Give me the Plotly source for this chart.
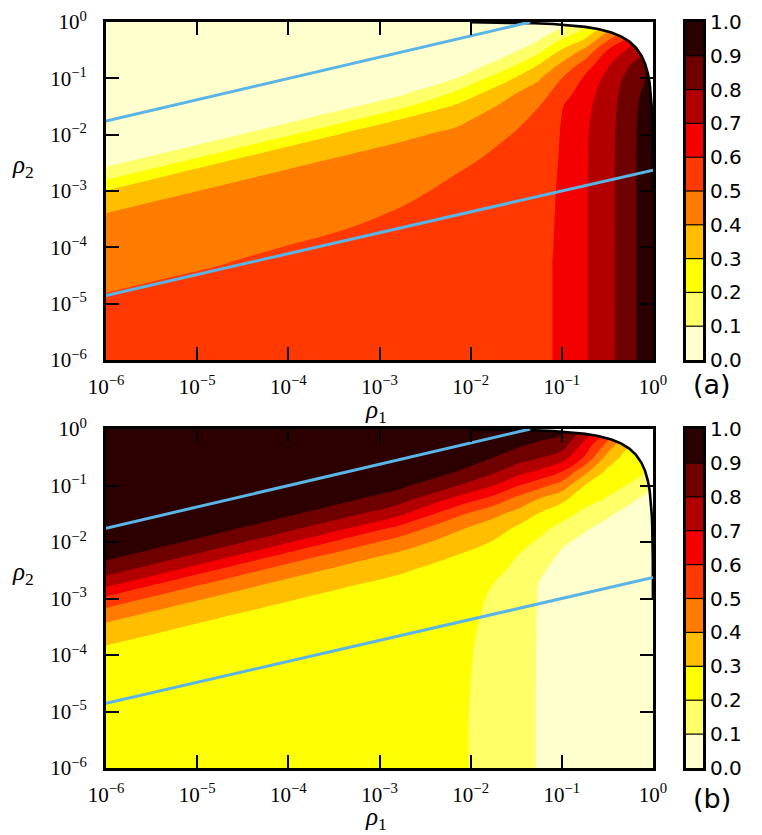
import numpy as np
import plotly.graph_objects as go

# ---------------- data ----------------
LEVELS = [0.1, 0.2, 0.3, 0.4, 0.5, 0.6, 0.7, 0.8, 0.9]
BAND_COLORS = ["#ffffcd", "#ffff68", "#ffff04", "#ffbf00", "#ff7c00",
               "#ff3900", "#f50000", "#b20000", "#6f0000", "#2c0000"]
CBAR_TICKS = [0.0, 0.1, 0.2, 0.3, 0.4, 0.5, 0.6, 0.7, 0.8, 0.9, 1.0]
CBAR_LABELS = ["0.0", "0.1", "0.2", "0.3", "0.4", "0.5", "0.6", "0.7", "0.8", "0.9", "1.0"]
BAND_CENTERS = [0.05, 0.15, 0.25, 0.35, 0.45, 0.55, 0.65, 0.75, 0.85, 0.95]

DECADES = [-6, -5, -4, -3, -2, -1, 0]
DECADE_LABELS = ["10<sup>\u22126</sup>", "10<sup>\u22125</sup>", "10<sup>\u22124</sup>",
                 "10<sup>\u22123</sup>", "10<sup>\u22122</sup>", "10<sup>\u22121</sup>",
                 "10<sup>0</sup>"]

# sampling grid (log10 rho1 columns, log10 rho2 rows from top 0 down to -6)
LOG_RHO1_GRID = [-6.0, -5.36, -4.72, -4.08, -3.44, -2.8, -2.16, -1.75, -1.5,
                 -1.25, -1.0, -0.75, -0.5, -0.3, -0.1, 0.0]
LOG_RHO2_GRID = [0.0, -0.25, -0.5, -0.75, -1.0, -1.25, -1.5, -1.75, -2.0, -2.25,
                 -2.5, -2.75, -3.0, -3.25, -3.5, -3.75, -4.0, -4.25, -4.5, -4.75,
                 -5.0, -5.25, -5.5, -5.75, -6.0]

# panel (a): values per rho1 column, top to bottom
ZA_COLUMNS = [
    [0.01, 0.01, 0.01, 0.012, 0.015, 0.017, 0.02, 0.025, 0.035, 0.05, 0.07, 0.173, 0.305, 0.38, 0.415, 0.43, 0.445, 0.46, 0.475, 0.497, 0.51, 0.52, 0.53, 0.535, 0.54],
    [0.01, 0.01, 0.012, 0.015, 0.017, 0.02, 0.025, 0.035, 0.05, 0.07, 0.173, 0.305, 0.38, 0.415, 0.43, 0.445, 0.46, 0.475, 0.497, 0.51, 0.52, 0.53, 0.535, 0.54, 0.54],
    [0.01, 0.012, 0.015, 0.017, 0.02, 0.025, 0.035, 0.05, 0.07, 0.173, 0.305, 0.38, 0.415, 0.43, 0.445, 0.46, 0.475, 0.497, 0.51, 0.52, 0.53, 0.535, 0.54, 0.545, 0.545],
    [0.012, 0.015, 0.017, 0.02, 0.025, 0.035, 0.05, 0.07, 0.173, 0.305, 0.38, 0.415, 0.43, 0.445, 0.46, 0.48, 0.5, 0.515, 0.525, 0.53, 0.535, 0.54, 0.545, 0.545, 0.545],
    [0.015, 0.017, 0.02, 0.025, 0.035, 0.05, 0.07, 0.173, 0.305, 0.38, 0.415, 0.43, 0.445, 0.46, 0.48, 0.503, 0.515, 0.525, 0.53, 0.535, 0.54, 0.545, 0.545, 0.545, 0.545],
    [0.017, 0.02, 0.025, 0.035, 0.05, 0.07, 0.173, 0.305, 0.38, 0.415, 0.43, 0.45, 0.47, 0.495, 0.515, 0.525, 0.535, 0.54, 0.545, 0.545, 0.55, 0.55, 0.55, 0.55, 0.55],
    [0.02, 0.025, 0.035, 0.055, 0.1, 0.21, 0.318, 0.382, 0.42, 0.448, 0.476, 0.505, 0.525, 0.535, 0.54, 0.545, 0.55, 0.55, 0.555, 0.555, 0.555, 0.56, 0.56, 0.56, 0.56],
    [0.03, 0.04, 0.055, 0.109, 0.229, 0.333, 0.397, 0.432, 0.466, 0.5, 0.525, 0.54, 0.55, 0.555, 0.56, 0.56, 0.565, 0.565, 0.57, 0.57, 0.57, 0.57, 0.57, 0.57, 0.57],
    [0.04, 0.06, 0.09, 0.195, 0.31, 0.397, 0.437, 0.477, 0.51, 0.53, 0.545, 0.555, 0.56, 0.565, 0.57, 0.57, 0.575, 0.575, 0.575, 0.58, 0.58, 0.58, 0.58, 0.58, 0.58],
    [0.04, 0.07, 0.17, 0.3, 0.39, 0.45, 0.5, 0.53, 0.55, 0.56, 0.57, 0.575, 0.58, 0.583, 0.585, 0.587, 0.588, 0.59, 0.59, 0.59, 0.59, 0.59, 0.59, 0.59, 0.59],
    [0.05, 0.17, 0.31, 0.415, 0.5, 0.55, 0.595, 0.603, 0.605, 0.606, 0.606, 0.607, 0.607, 0.607, 0.607, 0.607, 0.607, 0.607, 0.607, 0.607, 0.607, 0.607, 0.607, 0.607, 0.607],
    [0.15, 0.27, 0.42, 0.535, 0.615, 0.65, 0.67, 0.68, 0.685, 0.687, 0.688, 0.689, 0.69, 0.69, 0.69, 0.69, 0.69, 0.69, 0.69, 0.69, 0.69, 0.69, 0.69, 0.69, 0.69],
    [0.3, 0.45, 0.6, 0.685, 0.73, 0.75, 0.76, 0.765, 0.768, 0.77, 0.77, 0.77, 0.77, 0.77, 0.77, 0.77, 0.77, 0.77, 0.77, 0.77, 0.77, 0.77, 0.77, 0.77, 0.77],
    [0.4, 0.57, 0.7, 0.78, 0.815, 0.83, 0.837, 0.84, 0.842, 0.843, 0.844, 0.845, 0.845, 0.845, 0.845, 0.845, 0.845, 0.845, 0.845, 0.845, 0.845, 0.845, 0.845, 0.845, 0.845],
    [0.6, 0.7, 0.78, 0.85, 0.89, 0.915, 0.928, 0.935, 0.938, 0.94, 0.94, 0.94, 0.94, 0.94, 0.94, 0.94, 0.94, 0.94, 0.94, 0.94, 0.94, 0.94, 0.94, 0.94, 0.94],
    [0.9, 0.93, 0.95, 0.97, 0.98, 0.98, 0.98, 0.98, 0.98, 0.98, 0.98, 0.98, 0.98, 0.98, 0.98, 0.98, 0.98, 0.98, 0.98, 0.98, 0.98, 0.98, 0.98, 0.98, 0.98],
]

# panel (b): values per rho1 column, top to bottom
ZB_COLUMNS = [
    [0.99, 0.99, 0.99, 0.988, 0.985, 0.98, 0.975, 0.965, 0.95, 0.925, 0.844, 0.728, 0.579, 0.46, 0.376, 0.31, 0.28, 0.272, 0.266, 0.262, 0.258, 0.255, 0.253, 0.251, 0.25],
    [0.99, 0.99, 0.988, 0.985, 0.98, 0.975, 0.965, 0.95, 0.925, 0.844, 0.728, 0.579, 0.46, 0.376, 0.31, 0.28, 0.272, 0.266, 0.262, 0.258, 0.255, 0.253, 0.251, 0.25, 0.25],
    [0.99, 0.988, 0.985, 0.98, 0.975, 0.965, 0.95, 0.925, 0.844, 0.728, 0.579, 0.46, 0.376, 0.31, 0.28, 0.272, 0.266, 0.262, 0.258, 0.255, 0.253, 0.251, 0.25, 0.25, 0.25],
    [0.988, 0.985, 0.98, 0.975, 0.965, 0.95, 0.925, 0.844, 0.728, 0.579, 0.46, 0.376, 0.31, 0.28, 0.272, 0.266, 0.262, 0.258, 0.255, 0.253, 0.251, 0.25, 0.25, 0.25, 0.25],
    [0.985, 0.98, 0.975, 0.965, 0.95, 0.925, 0.844, 0.728, 0.579, 0.46, 0.376, 0.31, 0.28, 0.272, 0.266, 0.262, 0.258, 0.255, 0.253, 0.251, 0.25, 0.25, 0.25, 0.25, 0.25],
    [0.98, 0.975, 0.965, 0.95, 0.925, 0.844, 0.728, 0.579, 0.46, 0.376, 0.31, 0.28, 0.272, 0.266, 0.262, 0.258, 0.255, 0.253, 0.251, 0.25, 0.245, 0.245, 0.245, 0.245, 0.245],
    [0.985, 0.975, 0.95, 0.9, 0.807, 0.669, 0.526, 0.42, 0.352, 0.297, 0.27, 0.255, 0.245, 0.237, 0.23, 0.225, 0.222, 0.22, 0.218, 0.217, 0.216, 0.215, 0.215, 0.215, 0.215],
    [0.98, 0.96, 0.9, 0.817, 0.7, 0.558, 0.426, 0.35, 0.294, 0.262, 0.23, 0.199, 0.188, 0.182, 0.178, 0.175, 0.173, 0.172, 0.171, 0.17, 0.17, 0.17, 0.17, 0.17, 0.17],
    [0.97, 0.93, 0.85, 0.75, 0.61, 0.47, 0.37, 0.29, 0.245, 0.202, 0.175, 0.158, 0.148, 0.142, 0.138, 0.135, 0.133, 0.132, 0.131, 0.13, 0.13, 0.13, 0.13, 0.13, 0.13],
    [0.96, 0.89, 0.81, 0.685, 0.535, 0.39, 0.295, 0.235, 0.185, 0.145, 0.113, 0.097, 0.096, 0.095, 0.095, 0.095, 0.095, 0.095, 0.095, 0.095, 0.095, 0.095, 0.095, 0.095, 0.095],
    [0.93, 0.86, 0.75, 0.605, 0.455, 0.32, 0.24, 0.17, 0.115, 0.085, 0.072, 0.066, 0.063, 0.061, 0.06, 0.06, 0.06, 0.06, 0.06, 0.06, 0.06, 0.06, 0.06, 0.06, 0.06],
    [0.78, 0.68, 0.59, 0.43, 0.3, 0.237, 0.175, 0.112, 0.075, 0.058, 0.05, 0.045, 0.042, 0.041, 0.04, 0.04, 0.04, 0.04, 0.04, 0.04, 0.04, 0.04, 0.04, 0.04, 0.04],
    [0.65, 0.48, 0.365, 0.28, 0.236, 0.19, 0.115, 0.07, 0.05, 0.04, 0.035, 0.032, 0.031, 0.03, 0.03, 0.03, 0.03, 0.03, 0.03, 0.03, 0.03, 0.03, 0.03, 0.03, 0.03],
    [0.45, 0.33, 0.27, 0.235, 0.2, 0.13, 0.075, 0.045, 0.032, 0.026, 0.023, 0.021, 0.02, 0.02, 0.02, 0.02, 0.02, 0.02, 0.02, 0.02, 0.02, 0.02, 0.02, 0.02, 0.02],
    [0.4, 0.3, 0.25, 0.21, 0.14, 0.08, 0.045, 0.03, 0.022, 0.018, 0.016, 0.015, 0.015, 0.015, 0.015, 0.015, 0.015, 0.015, 0.015, 0.015, 0.015, 0.015, 0.015, 0.015, 0.015],
    [0.35, 0.25, 0.2, 0.16, 0.1, 0.05, 0.025, 0.015, 0.01, 0.01, 0.01, 0.01, 0.01, 0.01, 0.01, 0.01, 0.01, 0.01, 0.01, 0.01, 0.01, 0.01, 0.01, 0.01, 0.01],
]

# physical boundary rho1 + rho2 = 1
BOUNDARY_RHO1 = [0.01, 0.03, 0.05, 0.08, 0.12, 0.18, 0.25, 0.35, 0.45, 0.55, 0.65,
                 0.75, 0.82, 0.88, 0.92, 0.95, 0.97, 0.98, 0.99, 0.995, 0.999]
BOUNDARY_RHO2 = [0.99, 0.97, 0.95, 0.92, 0.88, 0.82, 0.75, 0.65, 0.55, 0.45, 0.35,
                 0.25, 0.18, 0.12, 0.08, 0.05, 0.03, 0.02, 0.01, 0.005, 0.001]

# straight blue reference lines
BLUE_UPPER_RHO1 = [1e-6, 0.045]
BLUE_UPPER_RHO2 = [0.0175, 1.0]
BLUE_LOWER_RHO1 = [1e-6, 1.0]
BLUE_LOWER_RHO2 = [1.4e-5, 2.35e-3]

# ---------------- figure ----------------
# the page places the figure 8 px from its top-left corner (body margin)
OFF = 8
W, H = 762, 835
def px(x):
    return (x - OFF) / W
def py(y):
    return 1 - (y - OFF) / H

X_DOM = [px(106), px(653)]
Y_DOM_A = [py(360), py(22)]
Y_DOM_B = [py(768), py(429)]
CB_DOM = [px(686), px(703)]

contour_scale = [[k / 9, c] for k, c in enumerate(BAND_COLORS)]
bar_scale = [[k / 9, c] for k, c in enumerate(BAND_COLORS)]

fig = go.Figure()

panels = [
    (ZA_COLUMNS, "x", "y", "x3", "y3"),
    (ZB_COLUMNS, "x2", "y2", "x4", "y4"),
]

log_r1_b = np.log10(BOUNDARY_RHO1)
log_r2_b = np.log10(BOUNDARY_RHO2)
mask_x = list(log_r1_b) + [0.3, 0.3, log_r1_b[0]]
mask_y = list(log_r2_b) + [log_r2_b[-1], 0.3, 0.3]

for cols, xa, ya, xc, yc in panels:
    z = np.array(cols).T[::-1]
    y = LOG_RHO2_GRID[::-1]
    fig.add_trace(go.Contour(
        x=LOG_RHO1_GRID, y=y, z=z, xaxis=xa, yaxis=ya,
        autocontour=False,
        contours=dict(start=LEVELS[0], end=LEVELS[-1], size=0.1,
                      coloring="fill", showlines=False),
        colorscale=contour_scale, showscale=False,
        line=dict(width=0, smoothing=1.3),
        hoverinfo="skip"))
    # white area outside rho1 + rho2 <= 1
    fig.add_trace(go.Scatter(x=mask_x, y=mask_y, xaxis=xa, yaxis=ya, mode="lines",
                             fill="toself", fillcolor="white",
                             line=dict(width=0, color="white"), hoverinfo="skip",
                             showlegend=False))
    fig.add_trace(go.Scatter(x=log_r1_b, y=log_r2_b, xaxis=xa, yaxis=ya, mode="lines",
                             line=dict(color="black", width=2.6), hoverinfo="skip",
                             showlegend=False))
    for r1, r2 in ((BLUE_UPPER_RHO1, BLUE_UPPER_RHO2), (BLUE_LOWER_RHO1, BLUE_LOWER_RHO2)):
        fig.add_trace(go.Scatter(x=np.log10(r1), y=np.log10(r2), xaxis=xa, yaxis=ya,
                                 mode="lines", line=dict(color="#5ab4e6", width=3),
                                 hoverinfo="skip", showlegend=False))
    # discrete colorbar
    fig.add_trace(go.Heatmap(x=[0.5], y=BAND_CENTERS,
                             z=[[k] for k in range(len(BAND_COLORS))],
                             xaxis=xc, yaxis=yc, colorscale=bar_scale, zmin=0, zmax=9,
                             showscale=False, hoverinfo="skip"))
    for lv in LEVELS:
        fig.add_shape(type="line", xref=xc + " domain", yref=yc, x0=0, x1=1,
                      y0=lv, y1=lv, line=dict(color="black", width=1.2))

tick_font = dict(family="Liberation Serif", size=21, color="black")
main_axis = dict(range=[-6, 0], tickvals=DECADES, ticktext=DECADE_LABELS,
                 ticks="inside", ticklen=13, tickwidth=2, tickcolor="black",
                 showline=True, linewidth=3, linecolor="black", mirror="ticks",
                 showgrid=False, zeroline=False, tickfont=tick_font, automargin=False,
                 ticklabeloverflow="allow")

fig.update_layout(
    template="none",
    width=W, height=H, margin=dict(l=0, r=0, t=0, b=0, autoexpand=False),
    paper_bgcolor="white", plot_bgcolor="white", showlegend=False,
    xaxis=dict(domain=X_DOM, anchor="y", ticklabelstandoff=6, **main_axis),
    yaxis=dict(domain=Y_DOM_A, anchor="x", ticklabelstandoff=12, **main_axis),
    xaxis2=dict(domain=X_DOM, anchor="y2", ticklabelstandoff=6, **main_axis),
    yaxis2=dict(domain=Y_DOM_B, anchor="x2", ticklabelstandoff=12, **main_axis),
)

cbar_y = dict(range=[0, 1], side="right", tickvals=CBAR_TICKS, ticktext=CBAR_LABELS,
              ticks="", showline=True, linewidth=3, linecolor="black", mirror=True,
              showgrid=False, zeroline=False, ticklabelstandoff=0, automargin=False,
              ticklabeloverflow="allow",
              tickfont=dict(family="DejaVu Sans", size=20, color="black"))
cbar_x = dict(range=[0, 1], showticklabels=False, ticks="", showline=True, linewidth=3,
              linecolor="black", mirror=True, showgrid=False, zeroline=False,
              automargin=False)
fig.update_layout(
    xaxis3=dict(domain=CB_DOM, anchor="y3", **cbar_x),
    yaxis3=dict(domain=Y_DOM_A, anchor="x3", **cbar_y),
    xaxis4=dict(domain=CB_DOM, anchor="y4", **cbar_x),
    yaxis4=dict(domain=Y_DOM_B, anchor="x4", **cbar_y),
)

rho_font = dict(family="Liberation Serif", size=25, color="black")
ann = [
    dict(text="<i>\u03c1</i><sub>1</sub>", x=px(376), y=py(411), font=rho_font),
    dict(text="<i>\u03c1</i><sub>1</sub>", x=px(376), y=py(818), font=rho_font),
    dict(text="<i>\u03c1</i><sub>2</sub>", x=px(23), y=py(166), font=rho_font),
    dict(text="<i>\u03c1</i><sub>2</sub>", x=px(23), y=py(573), font=rho_font),
    dict(text="(a)", x=px(712), y=py(384), font=dict(family="DejaVu Sans", size=27, color="black")),
    dict(text="(b)", x=px(712), y=py(798), font=dict(family="DejaVu Sans", size=27, color="black")),
]
for a in ann:
    fig.add_annotation(xref="paper", yref="paper", showarrow=False,
                       xanchor="center", yanchor="middle", **a)

fig.write_html("out.html")
